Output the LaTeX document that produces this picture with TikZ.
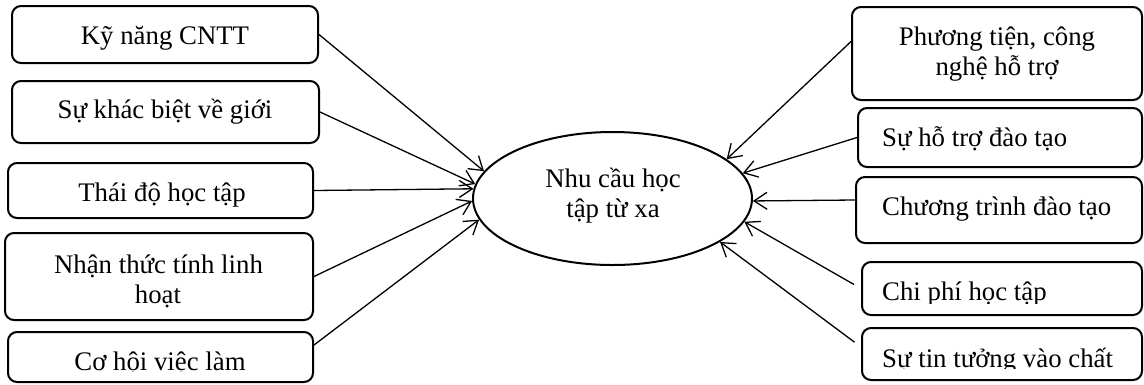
\documentclass[tikz,border=0pt]{standalone}
\usepackage{fontspec}
\setmainfont{Liberation Serif}
\usetikzlibrary{arrows.meta,shapes.geometric}
\begin{document}
\begin{tikzpicture}[x=1pt,y=-1pt,
  box/.style={draw, line width=2pt, rounded corners=9pt, inner sep=0pt},
  lbl/.style={inner sep=0pt, font=\fontsize{26.8}{30}\selectfont},
  conn/.style={line width=1.3pt, -{Straight Barb[length=13pt,width=17pt,line width=1.3pt]}},
]
\useasboundingbox (0,0) rectangle (1144,384);

% left boxes
\node[box, minimum width=306pt, minimum height=57pt] (l1) at (165,34.5) {};
\node[box, minimum width=307pt, minimum height=62pt] (l2) at (165.5,112) {};
\node[box, minimum width=305pt, minimum height=55pt] (l3) at (160.5,190.5) {};
\node[box, minimum width=308pt, minimum height=87pt] (l4) at (159,276.5) {};
\node[box, minimum width=305pt, minimum height=50pt] (l5) at (160.5,357) {};

% right boxes
\node[box, minimum width=290pt, minimum height=93pt] (r1) at (997,53.5) {};
\node[box, minimum width=284pt, minimum height=59pt] (r2) at (1000,137.5) {};
\node[box, minimum width=286pt, minimum height=66pt] (r3) at (999,210) {};
\node[box, minimum width=280pt, minimum height=53pt] (r4) at (1002,288.5) {};
\node[box, minimum width=280pt, minimum height=52pt] (r5) at (1002,354) {};

% centre ellipse
\node[draw, ellipse, line width=2pt, minimum width=279pt, minimum height=133pt, inner sep=0pt] (e) at (612.5,198.5) {};

% texts
\node[lbl, anchor=base] (l1t) at (165,44) {Kỹ năng CNTT};
\node[lbl, anchor=base] (l2t) at (165,118) {Sự khác biệt về giới};
\node[lbl, anchor=base] (l3t) at (162,201) {Thái độ học tập};
\node[lbl, anchor=base] (l4ta) at (158.5,273) {Nhận thức tính linh};
\node[lbl, anchor=base] (l4tb) at (158,303) {hoạt};
\begin{scope}
  \clip (0,0) rectangle (1144,371.5);
  \node[lbl, anchor=base] (l5t) at (160,370) {Cơ hội việc làm};
\end{scope}

\node[lbl, anchor=base] (eta) at (613,187) {Nhu cầu học};
\node[lbl, anchor=base] (etb) at (613,217) {tập từ xa};

\node[lbl, anchor=base] (r1ta) at (997,45) {Phương tiện, công};
\node[lbl, anchor=base] (r1tb) at (997,75) {nghệ hỗ trợ};
\node[lbl, anchor=base west] (r2t) at (882,146) {Sự hỗ trợ đào tạo};
\node[lbl, anchor=base west] (r3t) at (882,215) {Chương trình đào tạo};
\begin{scope}
  \clip (0,0) rectangle (1144,303);
  \node[lbl, anchor=base west] (r4t) at (882,300) {Chi phí học tập};
\end{scope}
\begin{scope}
  \clip (0,0) rectangle (1144,368.5);
  \node[lbl, anchor=base west] (r5t) at (882,367) {Sự tin tưởng vào chất};
\end{scope}

% connectors
\draw[conn] (l1.east) -- (e.168);
\draw[conn] (l2.east) -- (e.174);
\draw[conn] (l3.east) -- (e.176);
\draw[conn] (l4.east) -- (e.181);
\draw[conn] ([yshift=12pt]l5.east) -- (e.189);
\draw[conn] ([yshift=12pt]r1.west) -- (e.19);
\draw[conn] (r2.west) -- (e.11);
\draw[conn] ([yshift=10pt]r3.west) -- (e.-1);
\draw[conn, shorten <=8pt] (r4.west) -- (e.-10.5);
\draw[conn, shorten <=8pt] ([yshift=7pt]r5.west) -- (e.-22);
\end{tikzpicture}
\end{document}
